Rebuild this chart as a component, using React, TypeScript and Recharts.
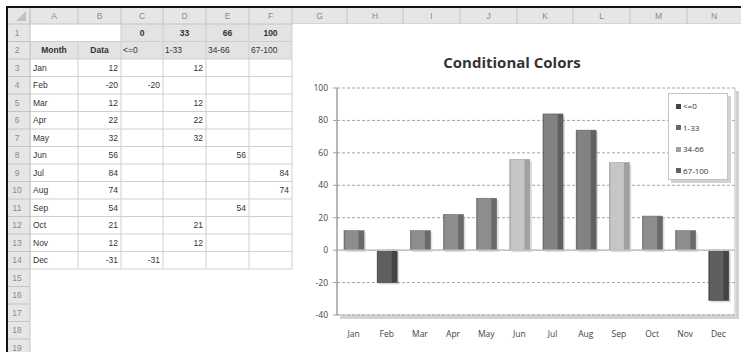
import React from "react";
import {
  BarChart,
  Bar,
  XAxis,
  YAxis,
  CartesianGrid,
  Legend,
  ReferenceLine,
  ReferenceArea,
} from "recharts";

// sheet data (columns A..F)
const months = ["Jan", "Feb", "Mar", "Apr", "May", "Jun", "Jul", "Aug", "Sep", "Oct", "Nov", "Dec"];
const dataValues = [12, -20, 12, 22, 32, 56, 84, 74, 54, 21, 12, -31];
const limitLabels = ["0", "33", "66", "100"];
const seriesNames = ["<=0", "1-33", "34-66", "67-100"];
const belowZero = [null, -20, null, null, null, null, null, null, null, null, null, -31];
const lowBand = [12, null, 12, 22, 32, null, null, null, null, 21, 12, null];
const midBand = [null, null, null, null, null, 56, null, null, 54, null, null, null];
const highBand = [null, null, null, null, null, null, 84, 74, null, null, null, null];
const valueTicks = [-40, -20, 0, 20, 40, 60, 80, 100];
const columnLetters = ["A", "B", "C", "D", "E", "F", "G", "H", "I", "J", "K", "L", "M", "N"];

const seriesCols = [belowZero, lowBand, midBand, highBand];
const seriesKeys = ["s0", "s1", "s2", "s3"];
const faceColors = ["#5f5f5f", "#8d8d8d", "#c6c6c6", "#828282"];
const edgeColors = ["#444444", "#696969", "#a0a0a0", "#606060"];

const sheetFont = "'Liberation Sans', Arial, sans-serif";
const chartFont = "'Open Sans', 'Liberation Sans', sans-serif";

// sheet geometry
const colEdges = [7, 30, 78, 121, 163, 206, 249, 292, 347, 403, 460, 517, 573, 630, 687, 744];
const rowH = 17.5;
const rowTop = (r: number) => 24 + (r - 1) * rowH;
const colLeft = (c: number) => colEdges[c + 1];
const colRight = (c: number) => colEdges[c + 2];

const chartRows = months.map((m, i) => {
  const row: any = { month: m };
  seriesKeys.forEach((k, j) => {
    row[k] = seriesCols[j][i];
  });
  return row;
});

const Sheet = () => {
  const gridColor = "#cfcfcf";
  const texts: React.ReactNode[] = [];
  const base = (r: number) => rowTop(r) + rowH / 2 + 3;

  limitLabels.forEach((t, j) => {
    const c = j + 2;
    texts.push(
      <text key={"l" + j} x={(colLeft(c) + colRight(c)) / 2} y={base(1)} textAnchor="middle" fontWeight="bold">
        {t}
      </text>
    );
  });
  texts.push(
    <text key="hm" x={(colLeft(0) + colRight(0)) / 2} y={base(2)} textAnchor="middle" fontWeight="bold">
      Month
    </text>,
    <text key="hd" x={(colLeft(1) + colRight(1)) / 2} y={base(2)} textAnchor="middle" fontWeight="bold">
      Data
    </text>
  );
  seriesNames.forEach((s, j) => {
    texts.push(
      <text key={"s" + j} x={colLeft(j + 2) + 2} y={base(2)}>
        {s}
      </text>
    );
  });
  months.forEach((m, i) => {
    const r = i + 3;
    texts.push(
      <text key={"m" + i} x={colLeft(0) + 3} y={base(r)}>
        {m}
      </text>,
      <text key={"d" + i} x={colRight(1) - 3} y={base(r)} textAnchor="end">
        {dataValues[i]}
      </text>
    );
    seriesCols.forEach((col, j) => {
      if (col[i] !== null) {
        texts.push(
          <text key={"v" + i + "-" + j} x={colRight(j + 2) - 3} y={base(r)} textAnchor="end">
            {col[i]}
          </text>
        );
      }
    });
  });

  const lines: React.ReactNode[] = [];
  for (let r = 2; r <= 15; r++) {
    lines.push(<line key={"h" + r} x1={colLeft(0)} x2={colRight(5)} y1={rowTop(r)} y2={rowTop(r)} />);
  }
  for (let c = 0; c <= 6; c++) {
    const x = colEdges[c + 1];
    lines.push(<line key={"v" + c} x1={x} x2={x} y1={c >= 2 ? rowTop(1) : rowTop(2)} y2={rowTop(15)} />);
  }

  return (
    <svg width={741} height={352} style={{ position: "absolute", left: 0, top: 0 }}>
      <rect width={741} height={352} fill="#fff" />
      <rect x={colLeft(2)} y={rowTop(1)} width={colRight(5) - colLeft(2)} height={rowH} fill="#e3e3e3" />
      <rect x={colLeft(0)} y={rowTop(2)} width={colRight(5) - colLeft(0)} height={rowH} fill="#e3e3e3" />
      <g stroke={gridColor} strokeWidth={1}>{lines}</g>
      <g fontFamily={sheetFont} fontSize={8.5} fill="#333">{texts}</g>

      {/* column and row headers */}
      <rect x={7} y={7} width={734} height={17} fill="#e6e6e6" />
      <rect x={7} y={24} width={23} height={328} fill="#e6e6e6" />
      <g stroke="#c4c4c4">
        {colEdges.slice(1).map((x, i) => (
          <line key={"cs" + i} x1={x} x2={x} y1={8} y2={24} />
        ))}
        {Array.from({ length: 19 }, (_, i) => (
          <line key={"rs" + i} x1={7} x2={30} y1={rowTop(i + 2)} y2={rowTop(i + 2)} />
        ))}
        <line x1={7} x2={741} y1={24} y2={24} />
        <line x1={30} x2={30} y1={7} y2={352} />
      </g>
      <polygon points="26,11 26,21 16,21" fill="#c2c2c2" />
      <g fontFamily={sheetFont} fontSize={8.5} fill="#8a8a8a" textAnchor="middle">
        {columnLetters.map((l, c) => (
          <text key={"cl" + c} x={(colLeft(c) + Math.min(colRight(c), 741)) / 2} y={19}>
            {l}
          </text>
        ))}
        {Array.from({ length: 19 }, (_, i) => (
          <text key={"rn" + i} x={17} y={base(i + 1)}>
            {i + 1}
          </text>
        ))}
      </g>
      <line x1={6} x2={741} y1={7} y2={7} stroke="#111" strokeWidth={2} />
      <line x1={7} x2={7} y1={6} y2={352} stroke="#111" strokeWidth={2} />
    </svg>
  );
};

const ShadedBar = (props: any) => {
  const { x, y, width, height, idx } = props;
  if (!height || Math.abs(height) < 0.5) return null;
  const top = height < 0 ? y + height : y;
  const h = Math.abs(height);
  return (
    <g>
      <rect x={x + 2} y={top + 2} width={width} height={h} fill="#000" opacity={0.13} />
      <rect
        x={x}
        y={top}
        width={width}
        height={h}
        fill={`url(#barShade${idx})`}
        stroke={edgeColors[idx]}
        strokeWidth={0.6}
      />
    </g>
  );
};

const PlotFrame = (props: any) => {
  const { x, y, width, height } = props;
  return (
    <g>
      <rect x={x + width + 1} y={y + 3} width={3} height={height} fill="#d2d2d2" />
      <rect x={x + 3} y={y + height + 1} width={width + 1} height={3} fill="#d2d2d2" />
      <line x1={x + width} x2={x + width} y1={y} y2={y + height} stroke="#bdbdbd" />
      <line x1={x} x2={x + width} y1={y + height} y2={y + height} stroke="#b0b0b0" />
    </g>
  );
};

const LegendBox = ({ payload }: any) => (
  <div
    style={{
      width: 60,
      height: 87,
      boxSizing: "border-box",
      border: "1px solid #c4c4c4",
      background: "#fff",
      boxShadow: "3px 3px 0 #d2d2d2",
      position: "relative",
      fontFamily: chartFont,
      fontSize: 8,
      color: "#333",
    }}
  >
    {(payload || []).map((item: any, i: number) => (
      <div
        key={item.value}
        style={{ position: "absolute", left: 7, top: 7 + i * 21.5, display: "flex", alignItems: "center", lineHeight: "10px" }}
      >
        <span style={{ display: "inline-block", width: 5, height: 5, background: edgeColors[i], marginRight: 2 }} />
        {item.value}
      </div>
    ))}
  </div>
);

const App = () => {
  return (
    <div style={{ position: "relative", width: 741, height: 352, overflow: "hidden", background: "#fff" }}>
      <style>{"body{margin:0}"}</style>
      <Sheet />
      <div style={{ position: "absolute", left: 293, top: 24, width: 448, height: 328, background: "#fff" }}>
        <div
          style={{
            position: "absolute",
            left: 0,
            top: 29,
            width: 438,
            textAlign: "center",
            fontFamily: chartFont,
            fontWeight: 700,
            fontSize: 15,
            lineHeight: "18px",
            color: "#333",
          }}
        >
          Conditional Colors
        </div>
        <BarChart
          width={448}
          height={328}
          data={chartRows}
          stackOffset="sign"
          margin={{ top: 64, right: 6, bottom: 7, left: 0 }}
          style={{ position: "absolute", left: 0, top: 0 }}
        >
          <defs>
            {faceColors.map((c, i) => (
              <linearGradient key={i} id={`barShade${i}`} x1="0" y1="0" x2="1" y2="0">
                <stop offset="0%" stopColor={edgeColors[i]} />
                <stop offset="8%" stopColor={c} />
                <stop offset="70%" stopColor={c} />
                <stop offset="76%" stopColor={edgeColors[i]} />
                <stop offset="100%" stopColor={edgeColors[i]} />
              </linearGradient>
            ))}
          </defs>
          <ReferenceArea y1={-40} y2={100} shape={<PlotFrame />} fill="none" />
          <CartesianGrid vertical={false} stroke="#a5a5a5" strokeDasharray="3 2" />
          <ReferenceLine y={0} stroke="#c4c4c4" strokeWidth={1.5} />
          <XAxis
            dataKey="month"
            axisLine={false}
            tickLine={false}
            tickSize={0}
            tickMargin={16}
            height={30}
            interval={0}
            tick={{ fontSize: 8.5, fill: "#444", fontFamily: chartFont }}
          />
          <YAxis
            width={44}
            domain={[-40, 100]}
            ticks={valueTicks}
            interval={0}
            tickSize={4}
            tickMargin={5}
            axisLine={{ stroke: "#a0a0a0", strokeWidth: 1.5 }}
            tickLine={{ stroke: "#a0a0a0" }}
            tick={{ fontSize: 8.5, fill: "#444", fontFamily: chartFont }}
          />
          <Legend
            layout="vertical"
            align="center"
            verticalAlign="middle"
            itemSorter="dataKey"
            content={<LegendBox />}
            wrapperStyle={{ left: 375, top: 69, width: 60, height: 87 }}
          />
          {seriesKeys.map((k, j) => (
            <Bar
              key={k}
              dataKey={k}
              name={seriesNames[j]}
              stackId="cond"
              fill={faceColors[j]}
              barSize={20}
              isAnimationActive={false}
              shape={(p: any) => <ShadedBar {...p} idx={j} />}
            />
          ))}
        </BarChart>
      </div>
    </div>
  );
};

export default App;
